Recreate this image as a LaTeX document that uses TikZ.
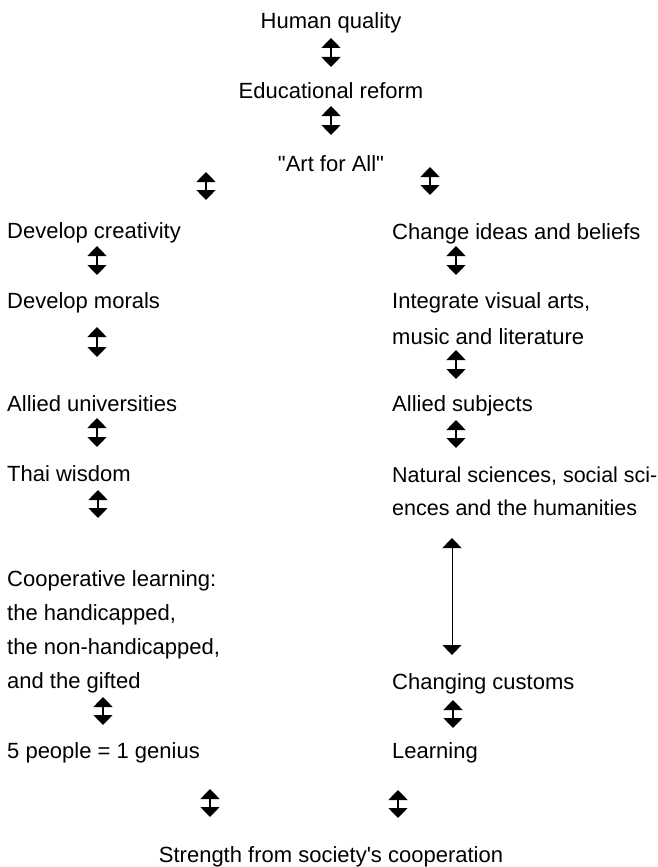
\documentclass[tikz,border=0pt]{standalone}
\usepackage{fontspec}
\setmainfont{Liberation Sans}[Ligatures=TeXOff]
\usetikzlibrary{arrows.meta}

\tikzset{label/.style={inner sep=0pt, font=\fontsize{22}{34}\selectfont},
         lefttext/.style={label, anchor=base west, align=left},
         twoway/.style={{Triangle[width=19pt,length=10pt]}-{Triangle[width=19pt,length=10pt]},
                        line width=1.5pt}}

\begin{document}
\begin{tikzpicture}[x = 1pt, y = -1pt]
  \useasboundingbox (0,0) rectangle (658,867);
  % middle stem
  \node[label, anchor = base] (quality) at (331,29) {Human quality};
  \node[label, anchor = base] (reform)  at (331,99) {Educational reform};
  \node[label, anchor = base] (artall)  at (331,171) {"Art for All"};
  % left branch (multi-line nodes sit on their last line)
  \node[lefttext] (creativity) at (7,238) {Develop creativity};
  \node[lefttext] (morals)     at (7,308) {Develop morals};
  \node[lefttext] (univ)       at (7,411) {Allied universities};
  \node[lefttext] (wisdom)     at (7,481) {Thai wisdom};
  \node[lefttext] (coop)       at (7,688) {Cooperative learning:\\the handicapped,\\the non-handicapped,\\and the gifted};
  \node[lefttext] (genius)     at (7,758) {5 people = 1 genius};
  % right branch
  \node[lefttext] (beliefs)   at (392,239) {Change ideas and beliefs};
  \node[lefttext, font = \fontsize{22}{36}\selectfont] (integrate) at (392,344) {Integrate visual arts,\\music and literature};
  \node[lefttext] (subjects)  at (392,411) {Allied subjects};
  \node[lefttext, font = \fontsize{21.5}{33}\selectfont] (sciences) at (392,515) {Natural sciences, social sci-\\ences and the humanities};
  \node[lefttext] (customs)   at (392,689) {Changing customs};
  \node[lefttext] (learning)  at (392,758) {Learning};
  % bottom
  \node[label, anchor = base] (strength) at (331,862) {Strength from society's cooperation};

  % short double arrows
  \foreach \x/\t/\b [count = \i] in {331/38/67, 331/106/135, 206/172/200, 430/167/195,
      97/246/275, 456/246/275, 97/327/357, 456/350/379, 97/418/447, 456/420/448,
      98/490/518, 103/697/725, 453/700/728, 210/789/817, 398/790/818}{
    \coordinate (up\i) at (\x,\t);
    \coordinate (dn\i) at (\x,\b);
    \draw[twoway] (up\i) -- (dn\i);
  }
  % long one
  \coordinate (longup) at (452,538);
  \coordinate (longdn) at (452,655);
  \draw[twoway, line width = 1pt] (longup) -- (longdn);
\end{tikzpicture}
\end{document}
